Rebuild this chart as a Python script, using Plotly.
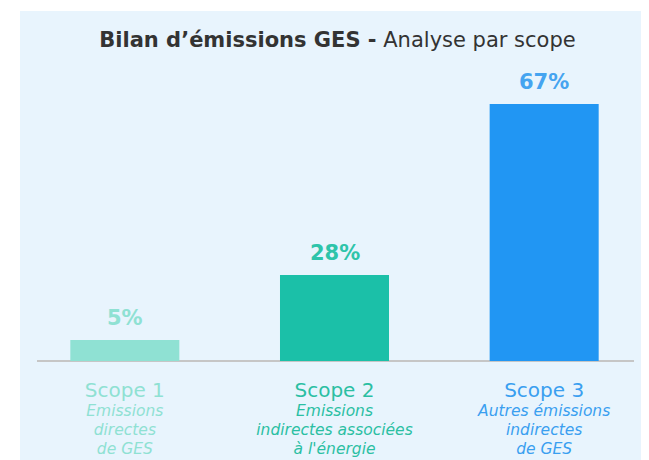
import plotly.graph_objects as go

# Data
categories = ["Scope 1", "Scope 2", "Scope 3"]
subtitles = ["Emissions<br>directes<br>de GES",
             "Emissions<br>indirectes associées<br>à l'énergie",
             "Autres émissions<br>indirectes<br>de GES"]
bar_heights = [5.5, 22.4, 67]          # drawn heights of the bars
value_labels = ["5%", "28%", "67%"]    # labels printed above the bars
bar_colors = ["#8fe1d3", "#1bc0a8", "#2196f3"]
label_colors = ["#8fe1d3", "#2ec4aa", "#45a4f0"]
text_colors = ["#8fe1d3", "#2bbfa3", "#3a9ff0"]

panel = "#e8f4fd"
FONT = "DejaVu Sans"

# page is rendered with an 8px body margin -> work in figure coordinates
OFF = 8
W, Hfig = 649, 460
top, bottom = 70 - OFF, 361 - OFF
left, right = 20 - OFF, 649 - OFF
H = bottom - top
PW = right - left

x = list(range(len(categories)))
ticktext = [
    f"<span style='color:{c};font-size:20px'>{cat}</span><br>"
    f"<span style='color:{c};font-size:15.5px'><i>{sub}</i></span>"
    for cat, sub, c in zip(categories, subtitles, text_colors)
]

fig = go.Figure()
fig.add_trace(go.Bar(
    x=x, y=bar_heights, width=0.52,
    marker=dict(color=bar_colors, line=dict(width=0)),
    hoverinfo="skip",
))

for xi, yi, t, c in zip(x, bar_heights, value_labels, label_colors):
    fig.add_annotation(
        x=xi, y=yi, xref="x", yref="y", text=f"<b>{t}</b>",
        showarrow=False, yanchor="bottom", yshift=8,
        font=dict(family=FONT, size=21, color=c),
    )

fig.update_layout(
    width=W, height=Hfig,
    margin=dict(l=left, r=W - right, t=top, b=Hfig - bottom, autoexpand=False),
    paper_bgcolor="white",
    plot_bgcolor="rgba(0,0,0,0)",
    font=dict(family=FONT, color="#333333"),
    showlegend=False,
    title=dict(
        text="<b>Bilan d’émissions GES -</b> Analyse par scope",
        font=dict(family=FONT, size=21, color="#333333"),
        x=(337.5 - OFF) / W, xref="container", xanchor="center",
        y=1 - (40 - OFF) / Hfig, yref="container", yanchor="middle",
    ),
    xaxis=dict(
        range=[-0.5, 2.5], tickvals=x, ticktext=ticktext,
        showgrid=False, zeroline=False, showline=False, ticks="",
        tickfont=dict(family=FONT, size=14.6),
        ticklabelstandoff=20,
    ),
    yaxis=dict(range=[0, 67 * H / 257], visible=False, showgrid=False),
    shapes=[
        dict(type="rect", xref="paper", yref="paper", layer="below",
             x0=0, x1=1.05, y0=(bottom - 480) / H, y1=(bottom - (11 - OFF)) / H,
             fillcolor=panel, line=dict(width=0)),
        dict(type="line", xref="paper", yref="paper", layer="below",
             x0=(37 - 20) / PW, x1=(634 - 20) / PW, y0=0, y1=0,
             line=dict(color="#c6c6c6", width=2)),
    ],
)

fig.write_html("out.html")
